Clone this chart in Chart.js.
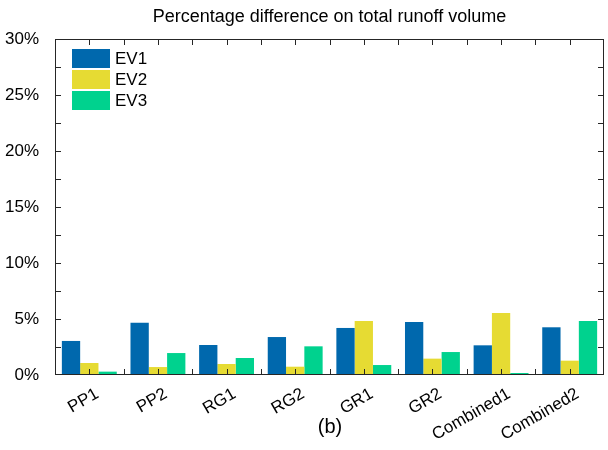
<!DOCTYPE html>
<html>
<head>
<meta charset="utf-8">
<script src="https://cdn.jsdelivr.net/npm/chart.js@4"></script>
<style>
  html, body { margin:0; padding:0; background:#fff; }
  #wrap { width:608px; height:450px; }
</style>
</head>
<body>
<div id="wrap"><canvas id="c" width="608" height="450"></canvas></div>
<script>
// values (percent)
const categories = ["PP1","PP2","RG1","RG2","GR1","GR2","Combined1","Combined2"];
const ev1 = [3.04, 4.67, 2.68, 3.39, 4.20, 4.73, 2.65, 4.26];
const ev2 = [1.07, 0.71, 0.98, 0.74, 4.82, 1.46, 5.54, 1.28];
const ev3 = [0.30, 1.96, 1.52, 2.56, 0.89, 2.05, 0.18, 4.82];
const yTicks = [0, 5, 10, 15, 20, 25, 30];

const FONT = "'Liberation Sans', Arial, sans-serif";
const AXIS = "#262626";

// box frame, inward ticks, inside legend, title and panel tag
const decor = {
  id: "decor",
  afterDraw(chart){
    const ctx = chart.ctx, a = chart.chartArea;
    const ys = chart.scales.y;
    ctx.save();
    ctx.strokeStyle = AXIS; ctx.lineWidth = 1;
    ctx.strokeRect(a.left + 0.5, a.top + 0.5, a.right - a.left - 1, a.bottom - a.top - 1);
    ctx.beginPath();
    // y ticks every 2.5 on both sides
    for(let v = 2.5; v < 30; v += 2.5){
      const y = Math.round(ys.getPixelForValue(v)) + 0.5;
      ctx.moveTo(a.left, y); ctx.lineTo(a.left + 6, y);
      ctx.moveTo(a.right, y); ctx.lineTo(a.right - 6, y);
    }
    // x ticks at category centres and boundaries
    const w = (a.right - a.left) / categories.length;
    for(let i = 1; i < categories.length * 2; i++){
      const x = Math.round(a.left + i * w / 2) + 0.5;
      ctx.moveTo(x, a.bottom); ctx.lineTo(x, a.bottom - 6);
      ctx.moveTo(x, a.top); ctx.lineTo(x, a.top + 6);
    }
    ctx.stroke();

    // legend
    ctx.font = "17px " + FONT;
    ctx.textBaseline = "middle"; ctx.textAlign = "left";
    chart.data.datasets.forEach((ds, i) => {
      const y = 49 + i * 21;
      ctx.fillStyle = ds.backgroundColor;
      ctx.fillRect(72, y, 38, 19);
      ctx.fillStyle = "#000";
      ctx.fillText(ds.label, 115, y + 10);
    });

    // title and tag
    ctx.textAlign = "center"; ctx.fillStyle = "#000";
    ctx.font = "18px " + FONT;
    ctx.fillText("Percentage difference on total runoff volume", (a.left + a.right) / 2, 17);
    ctx.font = "20px " + FONT;
    ctx.fillText("(b)", 330, 427);
    ctx.restore();
  }
};

new Chart(document.getElementById("c"), {
  type: "bar",
  data: {
    labels: categories,
    datasets: [
      { label: "EV1", data: ev1, backgroundColor: "#0068ad" },
      { label: "EV2", data: ev2, backgroundColor: "#e6db33" },
      { label: "EV3", data: ev3, backgroundColor: "#00d28e" }
    ]
  },
  options: {
    responsive: false,
    animation: false,
    layout: { padding: { top: 39, right: 4, left: 0, bottom: 0 } },
    plugins: { legend: { display: false }, title: { display: false }, tooltip: { enabled: false } },
    datasets: { bar: { categoryPercentage: 0.8, barPercentage: 1.0 } },
    scales: {
      x: {
        grid: { display: false }, border: { display: false },
        ticks: { color: "#000", font: { family: FONT, size: 17 }, maxRotation: 30, minRotation: 30, padding: 1, labelOffset: 8 },
        afterFit(s){ s.height = 75; }
      },
      y: {
        min: 0, max: 30,
        grid: { display: false }, border: { display: false },
        afterBuildTicks(s){ s.ticks = yTicks.map(v => ({ value: v })); },
        ticks: { color: "#000", font: { family: FONT, size: 17 }, padding: 8, callback: v => v + "%" },
        afterFit(s){ s.width = 55; }
      }
    }
  },
  plugins: [decor]
});
</script>
</body>
</html>
